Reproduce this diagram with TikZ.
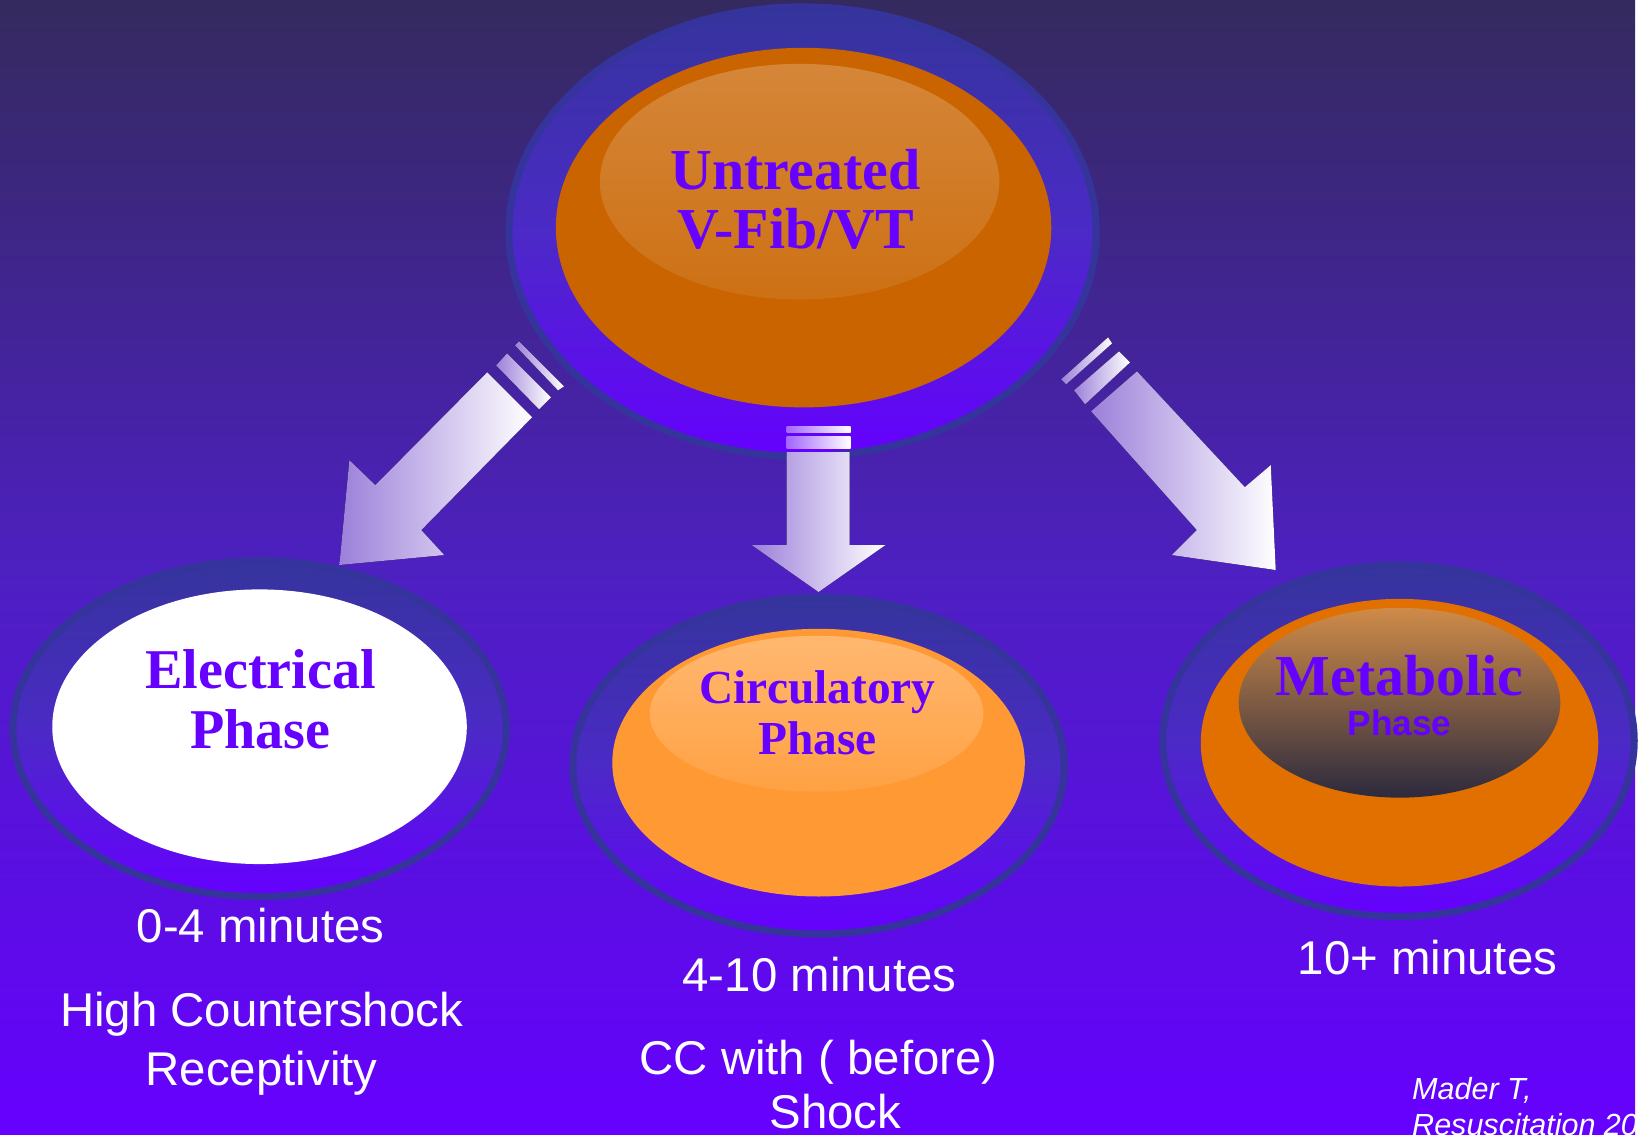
\documentclass[tikz,border=0pt]{standalone}
\usepackage{fontspec}
\setmainfont{Liberation Serif}
\setsansfont{Liberation Sans}
\usepackage{tikz}
\usetikzlibrary{shapes.geometric}
\definecolor{fondoalto}{HTML}{342A5E}
\definecolor{fondomedio}{HTML}{4D20C0}
\definecolor{violeta}{HTML}{6600FF}
\definecolor{anillo}{HTML}{35349C}
\definecolor{anillomedio}{HTML}{4B2AC6}
\definecolor{naranjaosc}{HTML}{C96400}
\definecolor{naranjaclaro}{HTML}{FF9933}
\definecolor{naranjamedio}{HTML}{E27000}
\definecolor{tostado}{HTML}{CF8B48}
\definecolor{pizarra}{HTML}{2C2A3E}
\definecolor{lila}{HTML}{9C80DA}
\definecolor{lilavivo}{HTML}{A466FF}

\begin{document}
\begin{tikzpicture}[x=0.01cm, y=-0.01cm,
  ring/.style={ellipse,draw=anillo,line width=2pt,top color=anillo,bottom color=violeta,middle color=anillomedio,inner sep=0pt},
  core/.style={ellipse,inner sep=0pt},
  titulo/.style={anchor=base,inner sep=0pt,text=violeta,font=\bfseries\fontsize{16.5}{18}\selectfont},
  lab/.style={anchor=base,inner sep=0pt,text=white,font=\sffamily\fontsize{13.5}{16}\selectfont},
  flecha/.style={left color=lila,right color=white},
  raya/.style={left color=lilavivo,right color=white}]
  % background
  \shade[top color=fondoalto,bottom color=violeta,middle color=fondomedio] (0,0) rectangle (1638,1136);

  % top: untreated
  \node[ring,minimum width=5.88cm,minimum height=4.50cm] (topring) at (804,232) {};
  \node[core,fill=naranjaosc,minimum width=4.96cm,minimum height=3.60cm] (topcore) at (805,228) {};
  \node[core,top color=naranjaosc!78!white,bottom color=naranjaosc!92!white,minimum width=4.00cm,minimum height=2.36cm] (topglow) at (801,182) {};
  \node[titulo] (untr) at (797,190) {Untreated};
  \node[titulo] (vfib) at (797,249) {V-Fib/VT};

  % electrical
  \node[ring,minimum width=4.94cm,minimum height=3.36cm] (elring) at (260,730) {};
  \node[core,fill=white,minimum width=4.15cm,minimum height=2.75cm] (elcore) at (260,728) {};
  \node[titulo,font=\bfseries\fontsize{16}{18}\selectfont] (eltxt) at (261,690) {Electrical};
  \node[titulo,font=\bfseries\fontsize{16}{18}\selectfont] (elfase) at (261,750) {Phase};

  % circulatory
  \node[ring,minimum width=4.92cm,minimum height=3.37cm] (cirring) at (820,767) {};
  \node[core,fill=naranjaclaro,minimum width=4.13cm,minimum height=2.68cm] (circore) at (820,764) {};
  \node[core,top color=naranjaclaro!70!white,bottom color=naranjaclaro!92!white,minimum width=3.34cm,minimum height=1.56cm] (cirglow) at (818,715) {};
  \node[titulo,font=\bfseries\fontsize{13.5}{16}\selectfont] (cirtxt) at (819,705) {Circulatory};
  \node[titulo,font=\bfseries\fontsize{13.5}{16}\selectfont] (cirfase) at (819,756) {Phase};

  % metabolic
  \node[ring,minimum width=4.72cm,minimum height=3.52cm] (metring) at (1401,742) {};
  \node[core,fill=naranjamedio,minimum width=3.98cm,minimum height=2.88cm] (metcore) at (1402,744) {};
  \node[core,top color=tostado,bottom color=pizarra,minimum width=3.22cm,minimum height=1.90cm] (metglow) at (1402,704) {};
  \node[titulo] (mettxt) at (1402,697) {Metabolic};
  \node[titulo,font=\sffamily\bfseries\fontsize{10}{12}\selectfont] (metfase) at (1402,737) {Phase};

  % arrows
  \fill[flecha] (488,373) -- (533,418) -- (422,531) -- (445,556) -- (340,566) -- (350,461) -- (376,486) -- cycle;
  \fill[flecha] (497,366) -- (508,354) -- (552,398) -- (540,410) -- cycle;
  \fill[flecha] (516,346) -- (520,342) -- (565,387) -- (559,391) -- cycle;

  \fill[flecha] (788,453) -- (851,453) -- (851,546) -- (887,546) -- (820,593) -- (753,546) -- (788,546) -- cycle;
  \fill[raya] (788,437) rectangle (852,449);
  \fill[raya] (788,427) rectangle (852,433);

  \fill[flecha] (1093,412) -- (1139,372) -- (1247,488) -- (1273,466) -- (1278,571) -- (1174,556) -- (1199,531) -- cycle;
  \fill[flecha] (1076,391) -- (1121,352) -- (1132,363) -- (1087,405) -- cycle;
  \fill[flecha] (1063,380) -- (1110,338) -- (1114,344) -- (1068,385) -- cycle;

  % times
  \node[lab] (t1) at (261,944) {0-4 minutes};
  \node[lab] (d1a) at (262,1028) {High Countershock};
  \node[lab] (d1b) at (262,1087) {Receptivity};
  \node[lab] (t2) at (821,993) {4-10 minutes};
  \node[lab] (d2a) at (820,1076) {CC with ( before)};
  \node[lab] (d2b) at (837,1130) {Shock};
  \node[lab] (t3) at (1430,976) {10+ minutes};

  \node[lab,anchor=base west,font=\sffamily\itshape\fontsize{8.7}{10}\selectfont] (cita1) at (1414,1101) {Mader T,};
  \node[lab,anchor=base west,font=\sffamily\itshape\fontsize{8.7}{10}\selectfont] (cita2) at (1414,1137) {Resuscitation 20};
\end{tikzpicture}
\end{document}
